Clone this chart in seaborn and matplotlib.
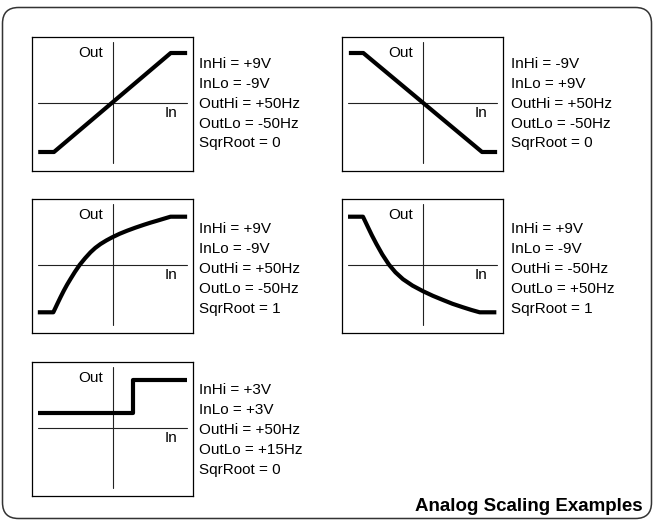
import matplotlib
matplotlib.use("Agg")
import matplotlib.pyplot as plt
import seaborn as sns
import pandas as pd
from matplotlib.patches import FancyBboxPatch
from matplotlib.transforms import IdentityTransform

sns.set_theme(style="white")
plt.rcParams['font.family'] = ['Liberation Sans', 'DejaVu Sans']

# ---- data (input volts vs output Hz) ----
lin_up_x = [-11.4, -9.0, 8.8, 11.3]
lin_up_y = [-49, -49, 50, 50]

lin_down_x = [-11.3, -9.1, 9.0, 11.3]
lin_down_y = [50, 50, -49, -49]

sqrt_up_x = [-11.46, -9.1, -8.8, -8.5, -8.0, -7.5, -7.0, -6.48, -5.8, -5.06, -4.25,
             -3.43, -2.7, -1.9, -1.0, -0.12, 1.0, 2.16, 3.4, 4.7, 5.7, 6.74, 7.8, 8.77, 11.3]
sqrt_up_y = [-47.3, -47.3, -43.2, -39, -32.2, -25.7, -19.7, -14, -6.8, 0.3, 6.8,
             12.7, 17.1, 21, 24.6, 27.7, 31.2, 34.3, 37.3, 40.2, 42.3, 44.3, 46.4, 48.3, 48.3]

sqrt_down_x = [-11.43, -9.15, -8.8, -8.38, -7.8, -7.1, -6.2, -5.18, -4.2, -3.05, -1.6,
               0.0, 1.5, 3.05, 4.5, 6.1, 7.4, 8.64, 11.18]
sqrt_down_y = [48.3, 48.3, 43.5, 37.7, 29.8, 21, 10.5, 0.3, -7.3, -14.2, -20.6,
               -26.2, -30.8, -35, -38.8, -42.3, -45, -47.3, -47.3]

step_x = [-11.4, 3.05, 3.05, 11.3]
step_y = [15, 15, 48, 48]

labels_1 = ["InHi = +9V", "InLo = -9V", "OutHi = +50Hz", "OutLo = -50Hz", "SqrRoot = 0"]
labels_2 = ["InHi = -9V", "InLo = +9V", "OutHi = +50Hz", "OutLo = -50Hz", "SqrRoot = 0"]
labels_3 = ["InHi = +9V", "InLo = -9V", "OutHi = +50Hz", "OutLo = -50Hz", "SqrRoot = 1"]
labels_4 = ["InHi = +9V", "InLo = -9V", "OutHi = -50Hz", "OutLo = +50Hz", "SqrRoot = 1"]
labels_5 = ["InHi = +3V", "InLo = +3V", "OutHi = +50Hz", "OutLo = +15Hz", "SqrRoot = 0"]

title = "Analog Scaling Examples"

W, H = 656, 522
fig = plt.figure(figsize=(W / 100, H / 100), dpi=100)
fig.patch.set_facecolor("white")

# outer rounded frame (pixel coords, origin bottom-left)
frame = FancyBboxPatch((2.5, 3.5), 649, 511,
                       boxstyle="round,pad=0,rounding_size=16",
                       transform=IdentityTransform(), fill=False,
                       edgecolor="#333333", linewidth=1.1)
fig.patches.append(frame)

# panels: (left px, top px, curve x, curve y, labels, text x px, first baseline px)
panels = [
    (32, 37, lin_up_x, lin_up_y, labels_1, 199, 67.5),
    (342, 37, lin_down_x, lin_down_y, labels_2, 511, 67.5),
    (32, 199, sqrt_up_x, sqrt_up_y, labels_3, 199, 233),
    (342, 199, sqrt_down_x, sqrt_down_y, labels_4, 511, 233),
    (32, 362, step_x, step_y, labels_5, 199, 394),
]

BW, BH = 161, 134
PX_PER_V = 6.56
for left, top, xs, ys, labs, tx, tb in panels:
    ax = fig.add_axes([left / W, (H - top - BH) / H, BW / W, BH / H])
    ax.set_xlim(-81 / PX_PER_V, (BW - 81) / PX_PER_V)
    ax.set_ylim(-(BH - 66), 66)
    ax.set_xticks([])
    ax.set_yticks([])
    for s in ax.spines.values():
        s.set_visible(True)
        s.set_color("black")
        s.set_linewidth(0.9)
    # axis cross
    ax.plot([-75 / PX_PER_V, 74 / PX_PER_V], [0, 0], color="#222222", lw=0.8)
    ax.plot([0, 0], [-60, 61], color="#222222", lw=0.8)
    df = pd.DataFrame({"x": xs, "y": ys})
    sns.lineplot(data=df, x="x", y="y", ax=ax, color="black", lw=3.0,
                 sort=False, estimator=None, solid_joinstyle="round",
                 solid_capstyle="butt")
    ax.set_xlabel("")
    ax.set_ylabel("")
    ax.text(-1.5, 46, "Out", ha="right", va="baseline", fontsize=11, color="black")
    ax.text(9.8, -14, "In", ha="right", va="baseline", fontsize=11, color="black")
    for i, lab in enumerate(labs):
        fig.text(tx / W, (H - (tb + 20 * i)) / H, lab, ha="left", va="baseline",
                 fontsize=11, color="black")

fig.text(643 / W, (H - 511) / H, title, ha="right", va="baseline",
         fontsize=13.5, fontweight="bold", color="black")

fig.savefig("out.png", dpi=100, facecolor="white")
